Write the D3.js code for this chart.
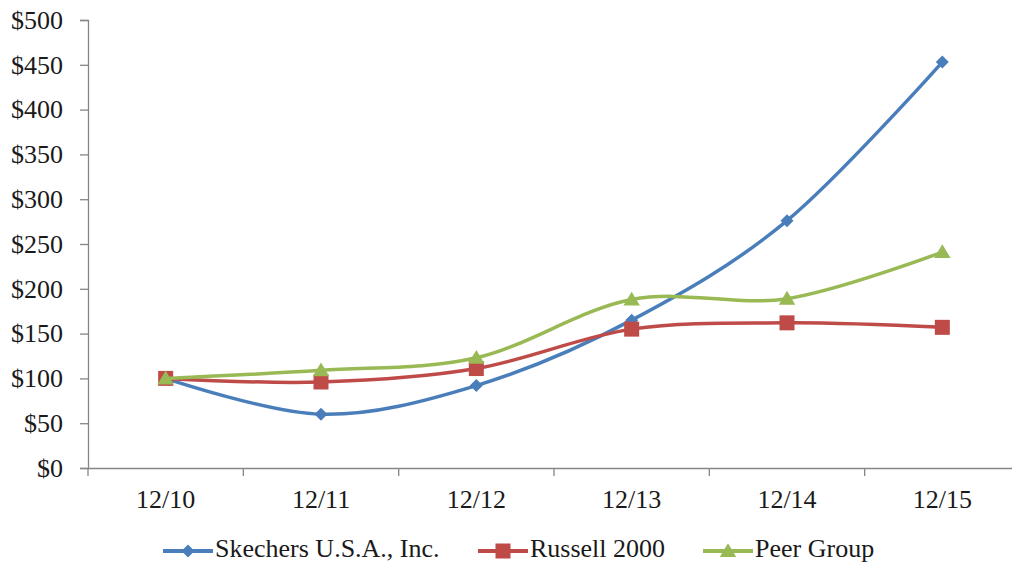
<!DOCTYPE html>
<html><head><meta charset="utf-8">
<script src="https://cdn.jsdelivr.net/npm/d3@7/dist/d3.min.js"></script>
<style>body{margin:0;background:#fff}svg{display:block}svg text{font-family:'Liberation Serif','Times New Roman',serif;}</style>
</head><body><svg id="c" width="1012" height="566"></svg>
<script>
const categories = ["12/10","12/11","12/12","12/13","12/14","12/15"];
const skechers = [100, 60, 92, 165, 276, 453];
const russell = [100, 96, 111, 155, 162, 157];
const peer = [100, 109, 123, 188, 189, 241];
const yTicks = [0,50,100,150,200,250,300,350,400,450,500];
const seriesNames = ["Skechers U.S.A., Inc.","Russell 2000","Peer Group"];
const seriesColors = ["#4A7EBB","#BE4B48","#98B954"];
const seriesShapes = ["diamond","square","triangle"];

(function(){
const svg = d3.select("#c");
const font = "'Liberation Serif','Times New Roman',serif";
const fs = 26;
const textColor = "#1a1a1a";
const pLeft = 88, pRight = 1020, pTop = 20, pBottom = 468;
const x = d3.scaleBand().domain(categories).range([pLeft, pRight]);
const y = d3.scaleLinear().domain([0, 500]).range([pBottom, pTop]);

const axisColor = "#868686";
const ya = svg.append("g").attr("transform", `translate(${pLeft},0)`)
  .call(d3.axisLeft(y).tickValues(yTicks).tickSize(8).tickPadding(17).tickFormat(d => "$" + d));
ya.attr("font-family", font);
ya.select(".domain").attr("stroke", axisColor).attr("stroke-width", 1.3);
ya.selectAll(".tick line").attr("stroke", axisColor).attr("stroke-width", 1.3);
ya.selectAll("text").attr("font-family", font).attr("font-size", fs).attr("fill", textColor);

const xa = svg.append("g").attr("transform", `translate(0,${pBottom})`)
  .call(d3.axisBottom(x).tickSize(0).tickPadding(22));
xa.attr("font-family", font);
xa.select(".domain").attr("stroke", axisColor).attr("stroke-width", 1.3);
xa.selectAll("text").attr("font-family", font).attr("font-size", fs).attr("fill", textColor);
const bounds = categories.map(c => x(c)).concat([pRight]);
svg.append("g").selectAll("line").data(bounds).join("line")
  .attr("x1", d => d).attr("x2", d => d).attr("y1", pBottom).attr("y2", pBottom + 8)
  .attr("stroke", axisColor).attr("stroke-width", 1.3);

const cx = c => x(c) + x.bandwidth() / 2;
const line = d3.line().x((d, i) => cx(categories[i])).y(d => y(d)).curve(d3.curveCatmullRom.alpha(0));

function marker(g, shape, color, px, py, s) {
  if (shape === "diamond") {
    g.append("path").attr("d", `M${px},${py - s}L${px + s},${py}L${px},${py + s}L${px - s},${py}Z`).attr("fill", color);
  } else if (shape === "square") {
    g.append("rect").attr("x", px - s).attr("y", py - s).attr("width", 2 * s).attr("height", 2 * s).attr("fill", color);
  } else {
    g.append("path").attr("d", `M${px},${py - s * 1.05}L${px + s * 1.1},${py + s * 0.8}L${px - s * 1.1},${py + s * 0.8}Z`).attr("fill", color);
  }
}
const sizes = [6.5, 7.5, 7.5];
[skechers, russell, peer].forEach((vals, k) => {
  svg.append("path").datum(vals).attr("d", line).attr("fill", "none")
    .attr("stroke", seriesColors[k]).attr("stroke-width", 3.5);
  const g = svg.append("g");
  vals.forEach((v, i) => marker(g, seriesShapes[k], seriesColors[k], cx(categories[i]), y(v), sizes[k]));
});

const legX = [163, 478, 703];
const legY = 551;
seriesNames.forEach((n, k) => {
  const g = svg.append("g");
  g.append("line").attr("x1", legX[k]).attr("x2", legX[k] + 50).attr("y1", legY).attr("y2", legY)
    .attr("stroke", seriesColors[k]).attr("stroke-width", 4);
  marker(g, seriesShapes[k], seriesColors[k], legX[k] + 25, legY, sizes[k]);
  g.append("text").attr("x", legX[k] + 52).attr("y", 557)
    .attr("font-family", font).attr("font-size", fs).attr("fill", textColor).text(n);
});
})();
</script></body></html>
